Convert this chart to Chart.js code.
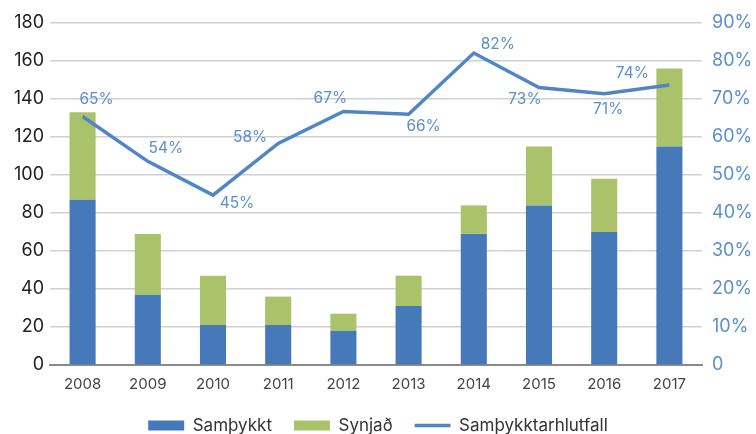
<!DOCTYPE html>
<html>
<head>
<meta charset="utf-8">
<script src="https://cdn.jsdelivr.net/npm/chart.js@4"></script>
<style>
  html, body { margin: 0; padding: 0; background: #fff; }
  #wrap { width: 756px; height: 434px; }
</style>
</head>
<body>
<div id="wrap"><canvas id="chart" width="756" height="434"></canvas></div>
<script>
const years = ["2008", "2009", "2010", "2011", "2012", "2013", "2014", "2015", "2016", "2017"];
const samthykkt = [87, 37, 21, 21, 18, 31, 69, 84, 70, 115];
const synjad = [46, 32, 26, 15, 9, 16, 15, 31, 28, 41];
const hlutfall = [65.4, 53.6, 44.7, 58.3, 66.7, 66.0, 82.1, 73.0, 71.4, 73.7];
const hlutfallLabels = ["65%", "54%", "45%", "58%", "67%", "66%", "82%", "73%", "71%", "74%"];

// where each percentage label sits relative to its point (px)
const labelOffsets = [
    [14, -17], [18, -13], [24, 8], [-28, -6], [-13, -13],
    [15, 12], [24, -9], [-14, 12], [4, 16], [-37, -12]
];

const fontFamily = "Inter, 'Noto Sans', sans-serif";

const lineLabels = {
    id: 'lineLabels',
    afterDatasetsDraw(chart) {
        const meta = chart.getDatasetMeta(2);
        const ctx = chart.ctx;
        ctx.save();
        ctx.font = '15.5px ' + fontFamily;
        ctx.fillStyle = '#5B8FCE';
        ctx.textAlign = 'center';
        ctx.textBaseline = 'middle';
        meta.data.forEach((pt, i) => {
            const off = labelOffsets[i];
            ctx.fillText(hlutfallLabels[i], pt.x + off[0], pt.y + off[1]);
        });
        ctx.restore();
    }
};

new Chart('chart', {
    type: 'bar',
    data: {
        labels: years,
        datasets: [{
            label: 'Samþykkt',
            data: samthykkt,
            backgroundColor: '#4679B9',
            borderWidth: 0,
            yAxisID: 'y',
            stack: 's',
            order: 1,
            pointStyle: 'rect'
        }, {
            label: 'Synjað',
            data: synjad,
            backgroundColor: '#AAC36A',
            borderWidth: 0,
            yAxisID: 'y',
            stack: 's',
            order: 1,
            pointStyle: 'rect'
        }, {
            type: 'line',
            label: 'Samþykktarhlutfall',
            data: hlutfall,
            borderColor: '#4F86C6',
            backgroundColor: '#4F86C6',
            borderWidth: 3.5,
            pointRadius: 0,
            pointStyle: 'line',
            tension: 0,
            yAxisID: 'y1',
            order: 0
        }]
    },
    options: {
        responsive: false,
        animation: false,
        devicePixelRatio: 1,
        barPercentage: 0.4,
        categoryPercentage: 1,
        layout: { padding: { top: 23, bottom: -10 } },
        scales: {
            x: {
                stacked: true,
                grid: { display: false },
                border: { color: '#8a8a8a', width: 2 },
                ticks: { color: '#444', font: { family: fontFamily, size: 15 }, padding: 2 }
            },
            y: {
                stacked: true,
                min: 0,
                max: 180,
                position: 'left',
                ticks: { stepSize: 20, color: '#222', font: { family: fontFamily, size: 18 }, padding: 6 },
                grid: { color: '#d0d0d0', lineWidth: 1.5, drawTicks: false },
                border: { display: false },
                afterFit(scale) { scale.width = 50; }
            },
            y1: {
                min: 0,
                max: 90,
                position: 'right',
                ticks: {
                    stepSize: 10,
                    color: '#5B8FCE',
                    font: { family: fontFamily, size: 18 },
                    padding: 10,
                    callback: v => v === 0 ? '0' : v + '%'
                },
                grid: { display: false, drawTicks: false },
                border: { display: false },
                afterFit(scale) { scale.width = 54; }
            }
        },
        plugins: {
            tooltip: { enabled: false },
            legend: {
                position: 'bottom',
                labels: {
                    usePointStyle: true,
                    pointStyleWidth: 36,
                    boxHeight: 10,
                    padding: 22,
                    color: '#333',
                    font: { family: fontFamily, size: 17 },
                    sort: (a, b) => a.datasetIndex - b.datasetIndex
                }
            }
        }
    },
    plugins: [lineLabels]
});
</script>
</body>
</html>
